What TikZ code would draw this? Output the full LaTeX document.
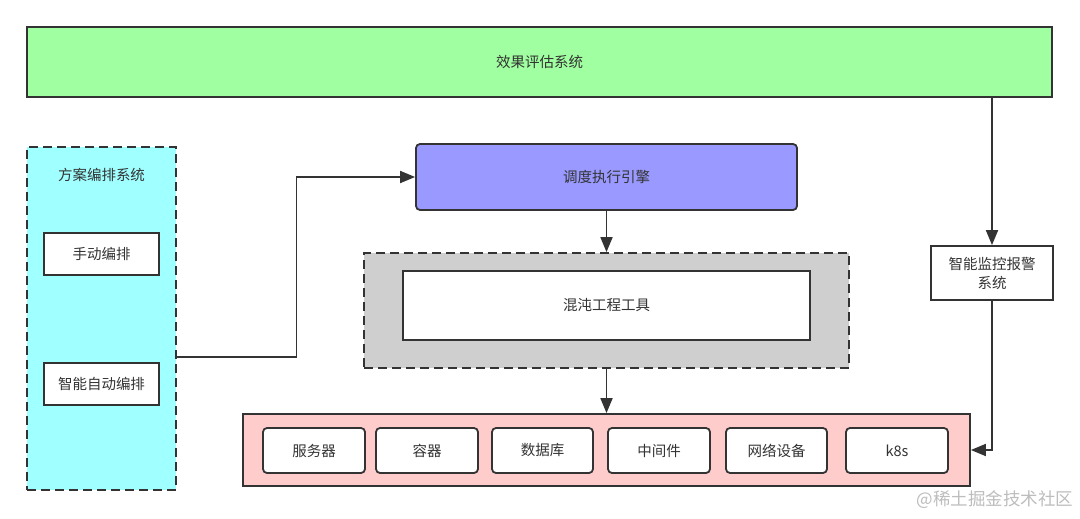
\documentclass[tikz,border=0pt]{standalone}
\usepackage{fontspec}
\setmainfont{Noto Sans CJK SC}
\usetikzlibrary{arrows.meta,calc}
\definecolor{edge}{HTML}{333333}
\definecolor{txt}{HTML}{333333}
\definecolor{greenf}{HTML}{A0FFA0}
\definecolor{cyanf}{HTML}{A0FFFF}
\definecolor{bluef}{HTML}{9999FF}
\definecolor{grayf}{HTML}{CFCFCF}
\definecolor{pinkf}{HTML}{FFCCCC}
\definecolor{wm}{HTML}{BDBDBD}
\tikzset{
  box/.style={draw=edge, line width=1.8pt, inner sep=0pt, align=center, text=txt,
    font=\fontsize{14.5}{19}\selectfont},
  dbox/.style={box, dash pattern=on 9pt off 5pt},
  rbox/.style={box, fill=white, rounded corners=4pt, minimum height=45pt},
  arr/.style={draw=edge, line width=1.8pt, -{Triangle[length=15pt,width=12pt]}},
}
\begin{document}
\begin{tikzpicture}[x=1pt,y=-1pt]
\useasboundingbox[fill=white] (0,0) rectangle (1080,519);
% top
\node[box, fill=greenf, minimum width=1025pt, minimum height=70pt] (eval) at (539.5,62) {效果评估系统};
% left dashed container
\node[dbox, fill=cyanf, minimum width=149pt, minimum height=343pt] (plan) at (101.5,318.5) {};
\node[text=txt, font=\fontsize{14.5}{19}\selectfont] (plantitle) at (101.5,175) {方案编排系统};
\node[box, fill=white, minimum width=115pt, minimum height=42pt] (manual) at (101.5,254) {手动编排};
\node[box, fill=white, minimum width=115pt, minimum height=42pt] (auto) at (101.5,384) {智能自动编排};
% scheduler
\node[box, fill=bluef, rounded corners=4pt, minimum width=381pt, minimum height=66pt] (sched) at (606.5,177) {调度执行引擎};
% chaos tool
\node[dbox, fill=grayf, minimum width=485pt, minimum height=115pt] (grayb) at (606.5,310.5) {};
\node[box, fill=white, minimum width=407pt, minimum height=69pt] (chaos) at (606.5,305.5) {混沌工程工具};
% resources
\node[box, fill=pinkf, minimum width=727pt, minimum height=72pt] (pink) at (606.5,450) {};
\node[rbox, minimum width=102pt] (r1) at (314,450.5) {服务器};
\node[rbox, minimum width=102pt] (r2) at (427,450.5) {容器};
\node[rbox, minimum width=101pt] (r3) at (542.5,450.5) {数据库};
\node[rbox, minimum width=102pt] (r4) at (659,450.5) {中间件};
\node[rbox, minimum width=101pt] (r5) at (776.5,450.5) {网络设备};
\node[rbox, minimum width=102pt] (r6) at (897,450.5) {k8s};
% monitor
\node[box, fill=white, minimum width=122pt, minimum height=54pt] (mon) at (992,273) {智能监控报警\\系统};
% watermark
\node[text=wm, font=\fontsize{17.5}{20}\selectfont, anchor=east] (wmk) at (1077,500) {@稀土掘金技术社区};
% connectors
\coordinate (cstart) at (plan.east |- 0,357);
\draw[arr] (cstart) -- ++(119.5,0) |- (sched.west);
\draw[arr] (sched.south) -- (grayb.north);
\draw[arr] (grayb.south) -- (pink.north);
\draw[arr] (eval.south -| mon.north) -- (mon.north);
\draw[arr] (mon.south) |- (pink.east);
\end{tikzpicture}
\end{document}
